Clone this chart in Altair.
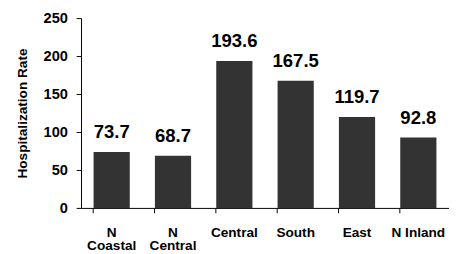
import altair as alt
import pandas as pd

regions = ["N\nCoastal", "N\nCentral", "Central", "South", "East", "N Inland"]
rates = [73.7, 68.7, 193.6, 167.5, 119.7, 92.8]
y_ticks = [0, 50, 100, 150, 200, 250]

df = pd.DataFrame({"region": regions, "rate": rates})
FONT = "Liberation Sans"

base = alt.Chart(df).encode(
    x=alt.X("region:N", sort=regions,
            scale=alt.Scale(paddingInner=0.41, paddingOuter=0.205),
            axis=alt.Axis(title=None, labelAngle=0, labelFont=FONT, labelFontSize=14,
                          labelFontWeight="bold", labelColor="black",
                          labelExpr="split(datum.label, '\\n')", labelLineHeight=14,
                          labelPadding=13, tickSize=5, tickColor="black",
                          domainColor="black", bandPosition=0)),
    y=alt.Y("rate:Q", scale=alt.Scale(domain=[0, 250]),
            axis=alt.Axis(title="Hospitalization Rate", values=y_ticks, grid=False,
                          titleFont=FONT, titleFontSize=14, titleFontWeight="bold",
                          titleColor="black", titlePadding=14,
                          labelFont=FONT, labelFontSize=15, labelFontWeight="bold",
                          labelColor="black", labelPadding=9, tickSize=5,
                          tickColor="black", domainColor="black")),
)

bars = base.mark_bar(color="#333333")
labels = base.mark_text(font=FONT, fontSize=19, fontWeight="bold", baseline="bottom",
                        dy=-10, color="black").encode(text=alt.Text("rate:Q", format=".1f"))

chart = (bars + labels).properties(width=378, height=195,
                                   padding={"left": 7, "top": 0, "right": 0, "bottom": 0}
                                   ).configure_view(stroke=None)
chart.save("out.html", embed_options={"renderer": "svg", "actions": False})
